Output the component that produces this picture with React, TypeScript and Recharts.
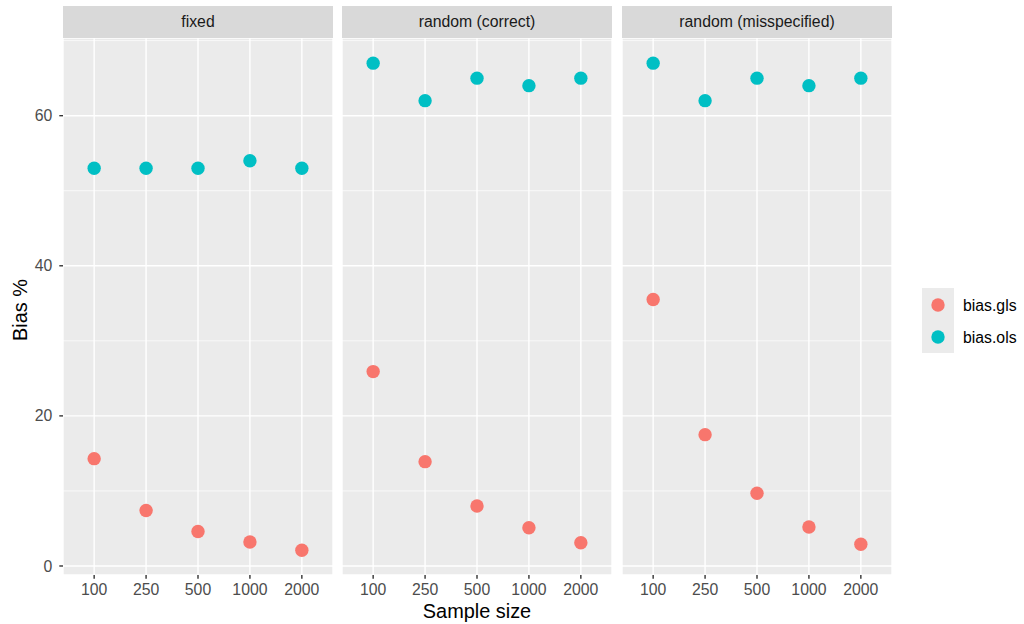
import React from 'react';
import { ScatterChart, Scatter, XAxis, YAxis, CartesianGrid, ReferenceLine } from 'recharts';

const sampleSizes = ['100', '250', '500', '1000', '2000'];
const panelNames = ['fixed', 'random (correct)', 'random (misspecified)'];
const seriesNames = ['bias.gls', 'bias.ols'];

const glsFixed = [14.3, 7.4, 4.6, 3.2, 2.1];
const olsFixed = [53, 53, 53, 54, 53];
const glsCorrect = [25.9, 13.9, 8.0, 5.1, 3.1];
const olsCorrect = [67, 62, 65, 64, 65];
const glsMisspec = [35.5, 17.5, 9.7, 5.2, 2.9];
const olsMisspec = [67, 62, 65, 64, 65];

const yTicks = [0, 20, 40, 60];
const yMinor = [10, 30, 50, 70];

const COLORS = ['#F8766D', '#00BFC4'];
const FONT = '"Liberation Sans", Arial, Helvetica, sans-serif';
const SMALL = 15.8;
const TITLE = 19.9;

const toPoints = (vals: number[]) => vals.map((v, i) => ({ x: i + 1, y: v }));

const panels = [
  { name: panelNames[0], gls: glsFixed, ols: olsFixed },
  { name: panelNames[1], gls: glsCorrect, ols: olsCorrect },
  { name: panelNames[2], gls: glsMisspec, ols: olsMisspec },
];

const Dot = (color: string) => (props: any) => (
  <circle cx={props.cx} cy={props.cy} r={6.7} fill={color} />
);

const PLOT_TOP = 38;
const PLOT_H = 537;
const X_AXIS_H = 49;
const Y_AXIS_W = 63;

const Panel: React.FC<{ idx: number; left: number }> = ({ idx, left }) => {
  const p = panels[idx];
  const withY = idx === 0;
  const width = 270 + (withY ? Y_AXIS_W : 0);
  return (
    <div style={{ position: 'absolute', left, top: 0 }}>
      <ScatterChart
        width={width}
        height={PLOT_TOP + PLOT_H + X_AXIS_H}
        margin={{ top: PLOT_TOP, right: 0, bottom: 0, left: 0 }}
      >
        <CartesianGrid fill="#EBEBEB" stroke="#FFFFFF" strokeWidth={1.4} />
        {yMinor.map((m) => (
          <ReferenceLine key={m} y={m} stroke="#FFFFFF" strokeWidth={0.7} />
        ))}
        <XAxis
          type="number"
          dataKey="x"
          domain={[0.4, 5.6]}
          ticks={[1, 2, 3, 4, 5]}
          tickFormatter={(v: number) => sampleSizes[v - 1]}
          height={X_AXIS_H}
          axisLine={false}
          tickSize={3.7}
          tickMargin={5}
          tickLine={{ stroke: '#333333', strokeWidth: 1.4 }}
          tick={{ fill: '#4D4D4D', fontSize: SMALL, fontFamily: FONT }}
          interval={0}
        />
        <YAxis
          type="number"
          dataKey="y"
          domain={[-1.2, 70.35]}
          ticks={yTicks}
          width={Y_AXIS_W}
          hide={!withY}
          axisLine={false}
          tickSize={3.7}
          tickMargin={7}
          tickLine={{ stroke: '#333333', strokeWidth: 1.4 }}
          tick={{ fill: '#4D4D4D', fontSize: SMALL, fontFamily: FONT }}
          allowDataOverflow
        />
        <Scatter name={seriesNames[0]} data={toPoints(p.gls)} shape={Dot(COLORS[0])} isAnimationActive={false} />
        <Scatter name={seriesNames[1]} data={toPoints(p.ols)} shape={Dot(COLORS[1])} isAnimationActive={false} />
      </ScatterChart>
      <div
        style={{
          position: 'absolute',
          left: withY ? Y_AXIS_W : 0,
          top: 6,
          width: 270,
          height: 32,
          background: '#D9D9D9',
          color: '#1A1A1A',
          fontFamily: FONT,
          fontSize: SMALL,
          lineHeight: '32px',
          textAlign: 'center',
        }}
      >
        {p.name}
      </div>
    </div>
  );
};

export default function App() {
  return (
    <div style={{ position: 'absolute', left: 0, top: 0, width: 1024, height: 624, background: '#fff', fontFamily: FONT }}>
      <Panel idx={0} left={0} />
      <Panel idx={1} left={342} />
      <Panel idx={2} left={622} />
      <svg style={{ position: 'absolute', left: 0, top: 0 }} width={1024} height={624} pointerEvents="none">
        <text x={477} y={618} textAnchor="middle" fontSize={TITLE} fontFamily={FONT} fill="#000">
          Sample size
        </text>
        <text
          x={27}
          y={310}
          textAnchor="middle"
          fontSize={TITLE}
          fontFamily={FONT}
          fill="#000"
          transform="rotate(-90 27 310)"
        >
          Bias %
        </text>
        <rect x={922} y={288} width={32} height={65} fill="#EBEBEB" />
        {seriesNames.map((s, i) => (
          <g key={s}>
            <circle cx={938} cy={305 + i * 32} r={6.7} fill={COLORS[i]} />
            <text x={963} y={305 + i * 32 + 5.6} fontSize={SMALL} fontFamily={FONT} fill="#000">
              {s}
            </text>
          </g>
        ))}
      </svg>
    </div>
  );
}
